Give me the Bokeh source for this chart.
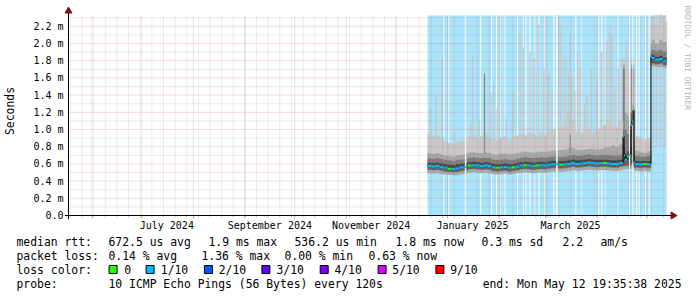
import datetime as dt
import math
from bokeh.plotting import figure
from bokeh.layouts import column
from bokeh.models import Range1d, FixedTicker, DatetimeTickFormatter, CustomJSTickFormatter
from bokeh.core.properties import value
from bokeh.embed import file_html
from bokeh.resources import INLINE

# ---------------- data ----------------
END_TIME = "2025-05-12 19:35:38"
SPAN_DAYS = 360
DATA_START = "2024-12-20"           # first consolidated sample
MAIN_STEP = 2.4                     # days per consolidated sample (main part)
N_MAIN = 49
END_EDGES = [118.2, 118.8, 120.0, 121.2, 122.4, 123.0, 123.6, 124.2, 124.8,
             127.2, 129.6, 132.0, 134.4, 135.0, 136.8, 139.2, 141.6]  # + end time

MED = [0.575, 0.570, 0.575, 0.565, 0.555, 0.545, 0.540, 0.550, 0.560, 0.565,
       0.580, 0.585, 0.580, 0.575, 0.580, 0.575, 0.560, 0.555, 0.560, 0.565,
       0.555, 0.560, 0.570, 0.580, 0.585, 0.580, 0.575, 0.580, 0.585, 0.580,
       0.590, 0.595, 0.595, 0.590, 0.595, 0.600, 0.610, 0.600, 0.605, 0.610,
       0.615, 0.610, 0.605, 0.610, 0.610, 0.605, 0.600, 0.600, 0.610,
       0.92, 0.70, 0.65, 0.69, 0.70, 1.05, 1.10, 1.23, 0.62, 0.60, 0.595, 0.60,
       0.595, 1.84, 1.83, 1.81, 1.82, 1.80]
UP0 = [0.620, 0.615, 0.620, 0.610, 0.600, 0.595, 0.590, 0.600, 0.605, 0.610,
       0.625, 0.630, 0.625, 0.620, 0.625, 0.620, 0.605, 0.600, 0.605, 0.610,
       0.600, 0.605, 0.615, 0.625, 0.630, 0.625, 0.620, 0.625, 0.630, 0.625,
       0.635, 0.640, 0.640, 0.635, 0.640, 0.645, 0.655, 0.645, 0.650, 0.655,
       0.660, 0.655, 0.650, 0.655, 0.655, 0.650, 0.645, 0.645, 0.655,
       1.00, 0.80, 0.72, 0.75, 0.80, 1.20, 1.30, 1.30, 0.70, 0.64, 0.635, 0.64,
       0.635, 1.88, 1.87, 1.85, 1.86, 1.84]
UP1 = [0.670, 0.665, 0.670, 0.660, 0.650, 0.645, 0.640, 0.650, 0.655, 0.660,
       0.675, 0.680, 0.675, 0.670, 0.675, 0.670, 0.655, 0.650, 0.655, 0.660,
       0.650, 0.655, 0.665, 0.675, 0.680, 0.675, 0.670, 0.675, 0.680, 0.675,
       0.685, 0.690, 0.690, 0.685, 0.690, 0.700, 0.710, 0.700, 0.700, 0.710,
       0.715, 0.710, 0.700, 0.710, 0.710, 0.705, 0.700, 0.700, 0.710,
       1.71, 1.71, 1.00, 0.95, 1.00, 1.71, 1.71, 1.71, 0.90, 0.70, 0.69, 0.69,
       0.70, 1.92, 1.93, 1.92, 1.93, 1.91]
UP2 = [0.730, 0.720, 0.730, 0.715, 0.700, 0.695, 0.690, 0.700, 0.710, 0.720,
       0.735, 0.740, 0.730, 0.730, 0.740, 0.730, 0.715, 0.710, 0.720, 0.725,
       0.715, 0.720, 0.730, 0.740, 0.745, 0.740, 0.735, 0.740, 0.745, 0.740,
       0.750, 0.760, 0.760, 0.765, 0.770, 0.790, 0.790, 0.770, 0.765, 0.770,
       0.780, 0.775, 0.770, 0.780, 0.790, 0.800, 0.820, 0.800, 0.830,
       1.76, 1.76, 1.20, 1.17, 1.20, 1.76, 1.76, 1.76, 1.20, 0.76, 0.74, 0.73,
       0.75, 2.00, 2.05, 2.00, 2.05, 2.02]
UP3 = [0.95, 0.92, 0.93, 0.90, 0.86, 0.84, 0.83, 0.85, 0.86, 0.88,
       0.92, 0.93, 0.90, 0.92, 0.95, 0.90, 0.88, 0.87, 0.90, 0.92,
       0.88, 0.91, 0.93, 0.95, 0.93, 0.96, 0.94, 0.92, 0.95, 0.93,
       0.97, 1.00, 0.98, 1.02, 1.05, 1.20, 1.10, 0.97, 0.95, 0.98,
       1.00, 0.96, 0.99, 1.02, 1.05, 1.10, 1.05, 1.02, 1.10,
       1.83, 1.80, 1.75, 1.70, 1.70, 1.83, 1.83, 1.83, 1.50, 0.92, 0.90, 0.88,
       0.90, 2.20, 2.30, 2.20, 2.33, 2.25]
LO0 = [0.535, 0.530, 0.535, 0.525, 0.515, 0.510, 0.505, 0.510, 0.520, 0.525,
       0.540, 0.545, 0.540, 0.535, 0.540, 0.535, 0.520, 0.515, 0.520, 0.525,
       0.515, 0.520, 0.530, 0.540, 0.545, 0.540, 0.535, 0.540, 0.545, 0.540,
       0.550, 0.555, 0.555, 0.550, 0.555, 0.560, 0.570, 0.560, 0.565, 0.570,
       0.575, 0.570, 0.565, 0.570, 0.570, 0.565, 0.560, 0.560, 0.570,
       0.58, 0.58, 0.58, 0.58, 0.58, 0.60, 0.60, 0.60, 0.56, 0.56, 0.555, 0.56,
       0.555, 1.78, 1.77, 1.76, 1.77, 1.75]
LO1 = [0.495, 0.490, 0.495, 0.485, 0.480, 0.475, 0.470, 0.475, 0.485, 0.490,
       0.500, 0.505, 0.500, 0.495, 0.500, 0.495, 0.485, 0.480, 0.485, 0.490,
       0.480, 0.485, 0.495, 0.500, 0.505, 0.500, 0.495, 0.500, 0.505, 0.500,
       0.510, 0.515, 0.515, 0.510, 0.515, 0.520, 0.530, 0.520, 0.525, 0.530,
       0.535, 0.530, 0.525, 0.530, 0.530, 0.525, 0.520, 0.520, 0.530,
       0.54, 0.54, 0.54, 0.54, 0.54, 0.55, 0.55, 0.55, 0.52, 0.52, 0.515, 0.52,
       0.515, 1.74, 1.74, 1.73, 1.73, 1.72]
LOSS = [1, 1, 1, 1, 1, 0, 1, 1, 1, 1,
        0, 1, 1, 1, 1, 1, 1, 0, 1, 1,
        1, 0, 1, 1, 0, 1, 1, 0, 1, 1,
        1, 1, 1, 0, 1, 1, 1, 1, 1, 1,
        1, 1, 1, 1, 0, 1, 1, 1, 1,
        1, 1, 1, 0, 1, 1, 1, 0, 1, 1, 1, 0, 1, 1, 1, 1, 1, 1]

SPIKE_DAY = [1.8, 5.2, 8.6, 16.2, 26.2, 27.2, 31.2, 38.2, 39.6, 41.8,
             47.2, 51.4, 55.6, 57.4, 61.6, 64.0, 66.8, 70.0, 72.8, 74.8,
             78.7, 80.2, 82.6, 84.8, 85.9, 86.8, 88.6, 90.4, 91.8, 94.4,
             95.8, 98.5, 101.8, 104.6, 107.8, 109.8, 110.8, 112.6, 114.8, 116.8,
             119.8, 136.0, 137.8, 140.2, 142.6]
SPIKE_TOP = [1.25, 1.40, 1.81, 0.98, 1.07, 1.87, 1.12, 1.43, 1.52, 1.25,
             1.15, 1.44, 2.10, 1.95, 1.90, 1.83, 2.22, 1.71, 1.63, 1.45,
             2.33, 2.21, 1.85, 1.70, 2.10, 1.60, 1.45, 1.90, 1.71, 1.30,
             1.40, 1.71, 1.55, 1.90, 2.02, 2.20, 2.10, 1.50, 1.71, 1.83,
             2.00, 2.33, 2.33, 2.30, 2.33]
DARK_SPIKE_DAY = [34.2, 85.8]
DARK_SPIKE_TOP = [1.65, 0.95]
GAP_DAY = [22.8, 77.8, 121.5, 123.5]          # no data
GAP_WIDTH = [0.9, 0.9, 0.6, 0.6]
NOLOSS_DAY = [9.72, 12.72, 31.92, 38.52, 41.52, 43.92, 46.62, 54.12, 57.72,
              59.22, 61.62, 64.62, 67.02, 70.62, 76.02, 89.22, 92.82, 103.02,
              104.82, 106.92, 114.42, 125.82, 127.32, 131.22, 133.32]

Y_TICKS = [0.0, 0.2, 0.4, 0.6, 0.8, 1.0, 1.2, 1.4, 1.6, 1.8, 2.0, 2.2]
Y_MINOR = [0.1, 0.3, 0.5, 0.7, 0.9, 1.1, 1.3, 1.5, 1.7, 1.9, 2.1, 2.3]
LABEL_MONTHS = [(2024, 7), (2024, 9), (2024, 11), (2025, 1), (2025, 3)]

LOSS_COLORS = ["#26ff00", "#00b8ff", "#0059ff", "#5e00ff", "#7e00ff", "#dd00ff", "#ff0000"]
LOSS_LABELS = ["0", "1/10", "2/10", "3/10", "4/10", "5/10", "9/10"]

ROW1 = [("median rtt:", 16), ("672.5 us avg", 108), ("1.9 ms max", 208), ("536.2 us min", 294),
        ("1.8 ms now", 395), ("0.3 ms sd", 481), ("2.2", 562), ("am/s", 600)]
ROW2 = [("packet loss:", 16), ("0.14 % avg", 108), ("1.36 % max", 201), ("0.00 % min", 284),
        ("0.63 % now", 368)]
ROW3_LABEL = ("loss color:", 16)
BOX_LEFT = [108.6, 145.6, 203.9, 261.4, 319.7, 377.6, 435.4]
BOX_TEXT_X = [123.8, 160.3, 218.2, 276.0, 333.9, 391.8, 449.7]
ROW4 = [("probe:", 16), ("10 ICMP Echo Pings (56 Bytes) every 120s", 108)]
ROW4_END = ("end: Mon May 12 19:35:38 2025", 681)

# ---------------- helpers ----------------
EPOCH = dt.datetime(1970, 1, 1)
DAY = 86400000.0
PXT = 0.6 * DAY          # time per pixel
PPM = 86.0               # pixels per ms of rtt


def ms(t):
    return (t - EPOCH).total_seconds() * 1000.0


t_end = dt.datetime.fromisoformat(END_TIME)
t_start = t_end - dt.timedelta(days=SPAN_DAYS)
ref = dt.datetime.fromisoformat(DATA_START)


def dms(d):
    return ms(ref) + d * DAY


last_day = (t_end - ref).total_seconds() / 86400.0
edges = [MAIN_STEP * i for i in range(N_MAIN + 1)] + END_EDGES + [last_day]
lefts = [dms(d) for d in edges[:-1]]
rights = [dms(d) for d in edges[1:]]
TOP = 200.0 / PPM

# ---------------- main figure ----------------
# frame: x 62..695, y 2..219 ; data origin (t_start, 0) at pixel (66, 215)
p = figure(width=697, height=235, x_axis_type="datetime",
           x_range=Range1d(ms(t_start) - 4 * PXT, ms(t_start) + 629 * PXT),
           y_range=Range1d(-4.0 / PPM, 213.0 / PPM),
           min_border_left=62, min_border_right=2, min_border_top=2, min_border_bottom=16,
           toolbar_location=None, output_backend="svg",
           background_fill_color="white", border_fill_color="white", outline_line_color=None)
p.grid.visible = False

BG = "#aae4fa"
p.quad(left=[lefts[0]], right=[rights[-1]], bottom=[0], top=[TOP], fill_color=BG, line_color=None)
p.vbar(x=[dms(d) for d in NOLOSS_DAY], width=0.6 * DAY, bottom=0, top=TOP,
       fill_color="white", line_color=None)

# light spikes
p.vbar(x=[dms(d) for d in SPIKE_DAY], width=0.8 * DAY, bottom=0.8, top=SPIKE_TOP,
       fill_color="#c8c8c8", line_color=None)

bands = [(LO1, LO0, "#a8a8a8"), (LO0, MED, "#606060"), (MED, UP0, "#474747"),
         (UP0, UP1, "#7c7c7c"), (UP1, UP2, "#a6a6a6"), (UP2, UP3, "#c8c8c8")]
for lo, hi, col in bands:
    p.quad(left=lefts, right=rights, bottom=lo, top=hi, fill_color=col,
           line_color=col, line_width=0.5)

p.vbar(x=[dms(d) for d in DARK_SPIKE_DAY], width=0.8 * DAY, bottom=0.72, top=DARK_SPIKE_TOP,
       fill_color="#8c8c8c", line_color=None)

p.vbar(x=[dms(d) for d in GAP_DAY], width=[w * DAY for w in GAP_WIDTH], bottom=0, top=TOP,
       fill_color="white", line_color=None)

# grid
months = []
y, m = 2024, 6
while dt.datetime(y, m, 1) < t_end:
    months.append(ms(dt.datetime(y, m, 1)))
    m += 1
    if m > 12:
        y, m = y + 1, 1
weeks = []
w = dt.datetime(2024, 5, 19)
while w < t_end:
    weeks.append(ms(w))
    w += dt.timedelta(days=7)

GRID = "#909090"
MGRID = "#e05050"
p.segment(x0=ms(t_start), x1=ms(t_end), y0=Y_MINOR, y1=Y_MINOR, line_color=GRID,
          line_alpha=0.35, line_dash="1 1", line_width=1)
p.segment(x0=weeks, x1=weeks, y0=0, y1=TOP, line_color=GRID, line_alpha=0.35,
          line_dash="1 1", line_width=1)
p.segment(x0=weeks, x1=weeks, y0=-2.0 / PPM, y1=0, line_color=GRID, line_alpha=0.5, line_width=1)
p.segment(x0=ms(t_start), x1=ms(t_end), y0=Y_TICKS[1:], y1=Y_TICKS[1:], line_color=MGRID,
          line_alpha=0.4, line_dash="1 1", line_width=1)
p.segment(x0=months, x1=months, y0=0, y1=TOP, line_color=MGRID, line_alpha=0.4,
          line_dash="1 1", line_width=1)
p.segment(x0=months, x1=months, y0=-3.0 / PPM, y1=0, line_color=MGRID, line_alpha=0.6, line_width=1)

# median
sx, sy = [], []
for l, r, v in zip(lefts, rights, MED):
    sx += [l, r]
    sy += [v, v]
p.line(sx, sy, line_color="black", line_width=1)
p.segment(x0=lefts, x1=rights, y0=MED, y1=MED, line_color=[LOSS_COLORS[k] for k in LOSS],
          line_width=2)

# axis lines and arrows
AXIS = "#000000"
ARROW = "#801010"
p.segment(x0=[ms(t_start) - 4 * PXT], x1=[ms(t_end) + 6 * PXT], y0=[0], y1=[0],
          line_color=AXIS, line_width=1)
p.segment(x0=[ms(t_start)], x1=[ms(t_start)], y0=[-4.0 / PPM], y1=[(215 - 11) / PPM],
          line_color=AXIS, line_width=1)
p.scatter(x=[ms(t_start)], y=[(215 - 10.5) / PPM], marker="triangle", size=7,
          fill_color=ARROW, line_color=ARROW)
p.scatter(x=[ms(t_end) + 6.5 * PXT], y=[0], marker="triangle", size=7, angle=-math.pi / 2,
          fill_color=ARROW, line_color=ARROW)

# watermark
p.text(x=[ms(t_start) + (687 - 66) * PXT], y=[(215 - 5) / PPM], text=["RRDTOOL / TOBI OETIKER"],
       angle=-math.pi / 2, text_font=value("DejaVu Sans Mono"), text_font_size="7.9px",
       text_color="#b4b4b4", text_align="left", text_baseline="middle")

# axes
yax = p.yaxis[0]
yax.ticker = FixedTicker(ticks=Y_TICKS)
yax.formatter = CustomJSTickFormatter(
    code="return Math.abs(tick) < 1e-9 ? '0.0' : tick.toFixed(1) + ' m';")
yax.axis_label = "Seconds"
yax.axis_label_text_font = "DejaVu Sans Mono"
yax.axis_label_text_font_size = "11.4px"
yax.axis_label_text_font_style = "normal"
yax.axis_label_text_color = "black"
yax.axis_label_standoff = 13
yax.major_label_text_font = "DejaVu Sans Mono"
yax.major_label_text_font_size = "10px"
yax.major_label_text_color = "black"
yax.major_label_standoff = 1
yax.major_tick_out = 0
yax.major_tick_in = 0
yax.minor_tick_out = 0
yax.minor_tick_in = 0
yax.axis_line_color = None

xax = p.xaxis[0]
xax.ticker = FixedTicker(ticks=[ms(dt.datetime(yy, mm, 1) + dt.timedelta(days=15))
                                for yy, mm in LABEL_MONTHS])
fmt = "%B %Y"
xax.formatter = DatetimeTickFormatter(microseconds=fmt, milliseconds=fmt, seconds=fmt,
                                      minsec=fmt, minutes=fmt, hourmin=fmt, hours=fmt,
                                      days=fmt, months=fmt, years=fmt)
xax.major_label_text_font = "DejaVu Sans Mono"
xax.major_label_text_font_size = "10px"
xax.major_label_text_color = "black"
xax.major_label_standoff = 0
xax.major_tick_out = 0
xax.major_tick_in = 0
xax.minor_tick_out = 0
xax.minor_tick_in = 0
xax.axis_line_color = None

# ---------------- legend figure ----------------
p2 = figure(width=697, height=62, x_range=Range1d(0, 697), y_range=Range1d(62, 0),
            min_border=0, min_border_left=0, min_border_right=0,
            min_border_top=0, min_border_bottom=0,
            toolbar_location=None, output_backend="svg",
            x_axis_location=None, y_axis_location=None, outline_line_color=None,
            background_fill_color="white", border_fill_color="white")
p2.grid.visible = False

for fig in (p, p2):
    if "frame_align" in fig.properties():
        fig.frame_align = False

ROW_Y = [6, 20, 34, 48]
tx, ty, tt = [], [], []
for t, x in ROW1:
    tx.append(x); ty.append(ROW_Y[0]); tt.append(t)
for t, x in ROW2:
    tx.append(x); ty.append(ROW_Y[1]); tt.append(t)
tx.append(ROW3_LABEL[1]); ty.append(ROW_Y[2]); tt.append(ROW3_LABEL[0])
for t, x in zip(LOSS_LABELS, BOX_TEXT_X):
    tx.append(x); ty.append(ROW_Y[2]); tt.append(t)
for t, x in ROW4:
    tx.append(x); ty.append(ROW_Y[3]); tt.append(t)

LEG_FONT = value("DejaVu Sans Mono")
p2.text(x=tx, y=ty, text=tt, text_font=LEG_FONT, text_font_size="11.4px",
        text_color="black", text_align="left", text_baseline="middle")
p2.text(x=[ROW4_END[1]], y=[ROW_Y[3]], text=[ROW4_END[0]], text_font=LEG_FONT,
        text_font_size="11.4px", text_color="black", text_align="right", text_baseline="middle")
p2.rect(x=[b + 4 for b in BOX_LEFT], y=ROW_Y[2], width=8, height=8,
        fill_color=LOSS_COLORS, line_color="black", line_width=1)

layout = column(p, p2)
open("out.html", "w").write(file_html(layout, INLINE))
